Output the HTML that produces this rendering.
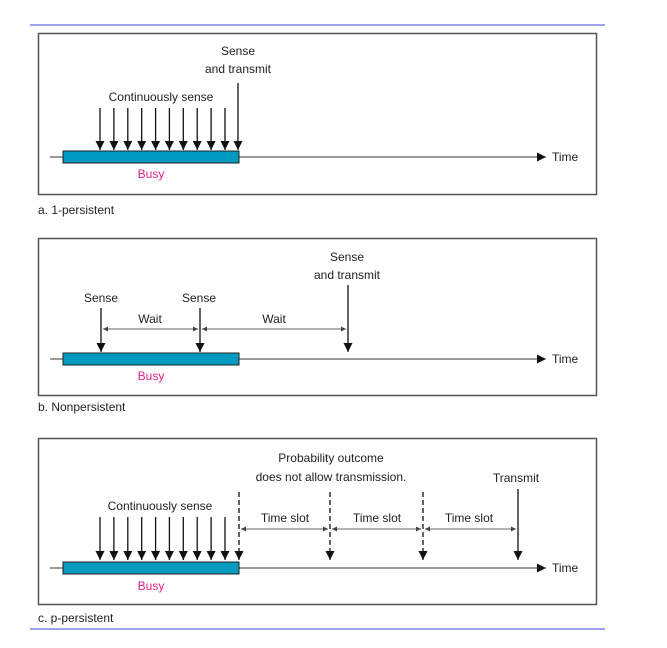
<!DOCTYPE html>
<html><head><meta charset="utf-8"><style>
html,body{margin:0;padding:0;background:#fff;}
svg text{font-family:"Liberation Sans",sans-serif;font-size:12px;fill:#222;}
</style></head><body>
<svg width="667" height="643" viewBox="0 0 667 643" xmlns="http://www.w3.org/2000/svg">
<defs>
<marker id="ah" viewBox="0 0 10 10" refX="10" refY="5" markerWidth="9" markerHeight="9" markerUnits="userSpaceOnUse" orient="auto"><path d="M0,0L10,5L0,10z" fill="#111"/></marker>
<marker id="sm" viewBox="0 0 10 10" refX="10" refY="5" markerWidth="5" markerHeight="5" markerUnits="userSpaceOnUse" orient="auto-start-reverse"><path d="M0,0L10,5L0,10z" fill="#444"/></marker>
</defs>
<line x1="30" y1="25" x2="605" y2="25" stroke="#8080ee" stroke-width="1.5"/>
<line x1="30" y1="629" x2="605" y2="629" stroke="#8080ee" stroke-width="1.5"/>

<!-- a -->
<rect x="38.5" y="33.5" width="558" height="161" fill="none" stroke="#555" stroke-width="1.5"/>
<line x1="50" y1="157" x2="546" y2="157" stroke="#333" stroke-width="1" marker-end="url(#ah)"/>
<rect x="63" y="151" width="176" height="12" fill="#0099c0" stroke="#222" stroke-width="1"/>
<text x="552" y="161">Time</text>
<text x="151" y="178" text-anchor="middle" style="fill:#e0208a">Busy</text>
<text x="161" y="101" text-anchor="middle">Continuously sense</text>
<text x="238" y="55" text-anchor="middle">Sense</text>
<text x="238" y="73" text-anchor="middle">and transmit</text>
<g stroke="#111" stroke-width="1.3">
<line x1="100" y1="108" x2="100" y2="150" marker-end="url(#ah)"/>
<line x1="113.9" y1="108" x2="113.9" y2="150" marker-end="url(#ah)"/>
<line x1="127.8" y1="108" x2="127.8" y2="150" marker-end="url(#ah)"/>
<line x1="141.7" y1="108" x2="141.7" y2="150" marker-end="url(#ah)"/>
<line x1="155.6" y1="108" x2="155.6" y2="150" marker-end="url(#ah)"/>
<line x1="169.4" y1="108" x2="169.4" y2="150" marker-end="url(#ah)"/>
<line x1="183.3" y1="108" x2="183.3" y2="150" marker-end="url(#ah)"/>
<line x1="197.2" y1="108" x2="197.2" y2="150" marker-end="url(#ah)"/>
<line x1="211.1" y1="108" x2="211.1" y2="150" marker-end="url(#ah)"/>
<line x1="225" y1="108" x2="225" y2="150" marker-end="url(#ah)"/>
<line x1="238" y1="83" x2="238" y2="150" marker-end="url(#ah)"/>
</g>
<text x="38" y="214">a. 1-persistent</text>

<!-- b -->
<rect x="38.5" y="238.5" width="558" height="157" fill="none" stroke="#555" stroke-width="1.5"/>
<line x1="50" y1="359" x2="546" y2="359" stroke="#333" stroke-width="1" marker-end="url(#ah)"/>
<rect x="63" y="353" width="176" height="12" fill="#0099c0" stroke="#222" stroke-width="1"/>
<text x="552" y="363">Time</text>
<text x="151" y="380" text-anchor="middle" style="fill:#e0208a">Busy</text>
<text x="101" y="302" text-anchor="middle">Sense</text>
<text x="199" y="302" text-anchor="middle">Sense</text>
<text x="150" y="323" text-anchor="middle">Wait</text>
<text x="274" y="323" text-anchor="middle">Wait</text>
<text x="347" y="261" text-anchor="middle">Sense</text>
<text x="347" y="279" text-anchor="middle">and transmit</text>
<g stroke="#111" stroke-width="1.3">
<line x1="101" y1="308" x2="101" y2="352" marker-end="url(#ah)"/>
<line x1="200" y1="308" x2="200" y2="352" marker-end="url(#ah)"/>
<line x1="348" y1="285" x2="348" y2="352" marker-end="url(#ah)"/>
</g>
<g stroke="#666" stroke-width="1">
<line x1="103" y1="329" x2="198" y2="329" marker-start="url(#sm)" marker-end="url(#sm)"/>
<line x1="202" y1="329" x2="346" y2="329" marker-start="url(#sm)" marker-end="url(#sm)"/>
</g>
<text x="38" y="411">b. Nonpersistent</text>

<!-- c -->
<rect x="38.5" y="438.5" width="558" height="166" fill="none" stroke="#555" stroke-width="1.5"/>
<line x1="50" y1="568" x2="546" y2="568" stroke="#333" stroke-width="1" marker-end="url(#ah)"/>
<rect x="63" y="562" width="176" height="12" fill="#0099c0" stroke="#222" stroke-width="1"/>
<text x="552" y="572">Time</text>
<text x="151" y="590" text-anchor="middle" style="fill:#e0208a">Busy</text>
<text x="160" y="510" text-anchor="middle">Continuously sense</text>
<text x="331" y="462" text-anchor="middle">Probability outcome</text>
<text x="331" y="481" text-anchor="middle">does not allow transmission.</text>
<text x="516" y="482" text-anchor="middle">Transmit</text>
<text x="285" y="522" text-anchor="middle">Time slot</text>
<text x="377" y="522" text-anchor="middle">Time slot</text>
<text x="469" y="522" text-anchor="middle">Time slot</text>
<g stroke="#111" stroke-width="1.3">
<line x1="100" y1="517" x2="100" y2="560" marker-end="url(#ah)"/>
<line x1="113.9" y1="517" x2="113.9" y2="560" marker-end="url(#ah)"/>
<line x1="127.8" y1="517" x2="127.8" y2="560" marker-end="url(#ah)"/>
<line x1="141.7" y1="517" x2="141.7" y2="560" marker-end="url(#ah)"/>
<line x1="155.6" y1="517" x2="155.6" y2="560" marker-end="url(#ah)"/>
<line x1="169.4" y1="517" x2="169.4" y2="560" marker-end="url(#ah)"/>
<line x1="183.3" y1="517" x2="183.3" y2="560" marker-end="url(#ah)"/>
<line x1="197.2" y1="517" x2="197.2" y2="560" marker-end="url(#ah)"/>
<line x1="211.1" y1="517" x2="211.1" y2="560" marker-end="url(#ah)"/>
<line x1="225" y1="517" x2="225" y2="560" marker-end="url(#ah)"/>
<line x1="518" y1="489" x2="518" y2="560" marker-end="url(#ah)"/>
</g>
<g stroke="#111" stroke-width="1.3" stroke-dasharray="5,3">
<line x1="239" y1="492" x2="239" y2="560" marker-end="url(#ah)"/>
<line x1="330" y1="492" x2="330" y2="560" marker-end="url(#ah)"/>
<line x1="423" y1="492" x2="423" y2="560" marker-end="url(#ah)"/>
</g>
<g stroke="#666" stroke-width="1">
<line x1="241" y1="529" x2="328" y2="529" marker-start="url(#sm)" marker-end="url(#sm)"/>
<line x1="332" y1="529" x2="421" y2="529" marker-start="url(#sm)" marker-end="url(#sm)"/>
<line x1="425" y1="529" x2="516" y2="529" marker-start="url(#sm)" marker-end="url(#sm)"/>
</g>
<text x="38" y="622">c. p-persistent</text>
</svg>
</body></html>
